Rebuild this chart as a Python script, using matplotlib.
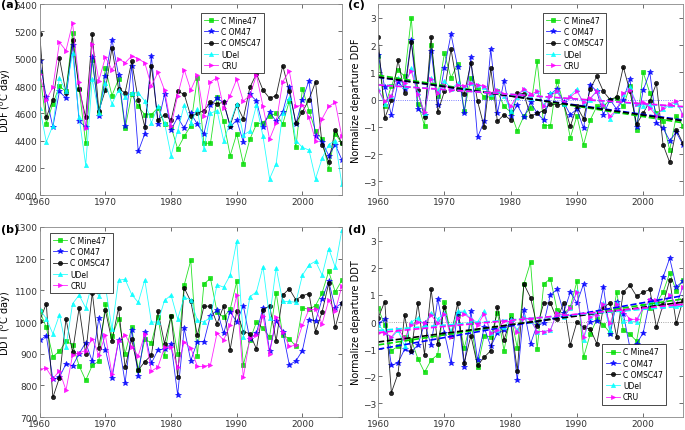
import numpy as np
import matplotlib.pyplot as plt

years = np.arange(1960, 2007)

# (a) DDF, degree days
ddf_mine = [4900, 4525, 4670, 4800, 4760, 5190, 4780, 4380, 4990, 4600,
            4930, 4730, 4850, 4490, 4740, 4650, 4590, 4590, 4640, 4520,
            4500, 4340, 4430, 4510, 4860, 4380, 4380, 4720, 4540, 4290,
            4450, 4230, 4410, 4520, 4530, 4580, 4600, 4520, 4690, 4350,
            4780, 4620, 4470, 4410, 4190, 4450, 4380]
ddf_om = [4980, 4720, 4500, 4760, 4710, 5100, 4540, 4500, 5010, 4580,
          4870, 5140, 4880, 4510, 4950, 4320, 4450, 5020, 4520, 4740,
          4480, 4570, 4490, 4600, 4520, 4450, 4660, 4710, 4680, 4500,
          4550, 4390, 4740, 4690, 4500, 4610, 4540, 4610, 4790, 4520,
          4700, 4840, 4430, 4390, 4290, 4370, 4260]
ddf_omsc = [5180, 4570, 4700, 5005, 4750, 5140, 4780, 4570, 5180, 4620,
            4770, 5080, 4780, 4750, 4980, 4700, 4500, 4950, 4550, 4590,
            4550, 4760, 4740, 4580, 4600, 4620, 4680, 4670, 4680, 4510,
            4660, 4560, 4790, 4890, 4770, 4710, 4730, 4950, 4760, 4530,
            4610, 4700, 4830, 4370, 4240, 4480, 4380]
ddf_udel = [4640, 4390, 4510, 4860, 4760, 5040, 4570, 4220, 4850, 4600,
            4820, 4670, 4770, 4720, 4750, 4750, 4690, 4530, 4650, 4530,
            4290, 4470, 4660, 4530, 4630, 4340, 4600, 4620, 4400, 4530,
            4670, 4440, 4470, 4660, 4430, 4120, 4230, 4600, 4710, 4400,
            4350, 4330, 4120, 4270, 4370, 4400, 4080]
ddf_cru = [4890, 4700, 4790, 5120, 5060, 5260, 4830, 4490, 5110, 4840,
           5010, 4920, 5000, 4970, 5020, 5000, 4970, 4800, 4900, 4770,
           4510, 4730, 4920, 4770, 4880, 4580, 4830, 4860, 4640, 4730,
           4850, 4690, 4730, 4880, 4650, 4410, 4530, 4830, 4910, 4650,
           4660, 4570, 4400, 4560, 4650, 4680, 4430]

# (b) DDT, degree days
ddt_mine = [1035, 983, 891, 908, 939, 929, 862, 816, 863, 876,
            1057, 955, 1009, 900, 983, 850, 945, 935, 1015, 893,
            1020, 900, 1117, 1195, 893, 1120, 1138, 1032, 1015, 1040,
            1128, 865, 943, 1000, 980, 953, 1093, 958, 948, 923,
            1045, 1040, 1052, 1092, 1160, 1095, 1132]
ddt_om = [942, 957, 819, 826, 868, 862, 900, 935, 876, 1012,
          913, 822, 942, 808, 976, 830, 968, 870, 912, 915,
          930, 770, 980, 878, 938, 938, 1020, 1037, 965, 1033,
          1000, 1052, 945, 965, 1045, 908, 1003, 970, 865, 877,
          910, 1007, 1003, 1073, 1128, 1045, 1060]
ddt_omsc = [1004, 1058, 762, 824, 1010, 905, 1045, 900, 1093, 919,
            1037, 940, 1045, 857, 945, 848, 875, 895, 1035, 932,
            1020, 828, 1108, 1065, 958, 1050, 1050, 995, 1050, 913,
            1035, 970, 963, 915, 1037, 1052, 940, 1085, 1105, 1070,
            1083, 1090, 970, 1032, 1122, 983, 1060]
ddt_udel = [1040, 1011, 963, 1023, 922, 1058, 1085, 1045, 1124, 1082,
            1113, 977, 1132, 1135, 1087, 1062, 1133, 1000, 1000, 1068,
            1085, 1010, 1078, 1070, 1005, 1000, 1015, 1118, 1110, 1148,
            1255, 952, 1080, 1095, 1175, 1013, 1172, 1065, 1065, 1062,
            1148, 1180, 1192, 1148, 1232, 1173, 1290]
ddt_cru = [851, 854, 821, 846, 785, 896, 903, 910, 948, 896,
           959, 835, 940, 960, 922, 893, 963, 845, 858, 920,
           920, 857, 937, 918, 860, 860, 865, 965, 943, 990,
           1085, 825, 950, 958, 1020, 900, 1017, 970, 923, 927,
           990, 1040, 1040, 995, 1068, 1035, 1113]

# (c) normalized departure DDF
ndf_mine = [1.6, -0.25, 0.5, 1.1, 0.85, 3.0, -0.15, -0.95, 2.0, 0.15,
            1.7, 0.8, 1.3, -0.4, 0.8, 0.4, 0.1, 0.1, 0.3, -0.25,
            -0.45, -1.15, -0.6, -0.3, 1.4, -0.95, -0.95, 0.7, -0.15, -1.4,
            -0.6, -1.65, -0.75, -0.25, -0.25, 0.0, 0.05, -0.25, 0.5, -1.1,
            1.0, 0.25, -0.5, -0.8, -1.85, -0.6, -0.95]
ndf_om = [1.65, 0.45, -0.57, 0.65, 0.4, 2.2, -0.35, -0.55, 1.8, -0.2,
          1.15, 2.4, 1.2, -0.5, 1.55, -1.38, -0.8, 1.85, -0.5, 0.7,
          -0.6, -0.2, -0.65, -0.1, -0.5, -0.75, 0.2, 0.4, -0.1, -0.55,
          -0.35, -1.05, 0.55, 0.3, -0.55, 0.0, -0.35, 0.0, 0.75, -1.0,
          0.35, 1.0, -0.85, -1.05, -1.5, -1.2, -1.65]
ndf_omsc = [2.3, -0.68, -0.03, 1.45, 0.25, 2.1, 0.35, -0.65, 2.3, -0.45,
            0.3, 1.85, 0.4, 0.2, 1.35, -0.05, -1.0, 1.15, -0.8, -0.55,
            -0.75, 0.25, 0.2, -0.6, -0.5, -0.4, -0.15, -0.2, -0.15, -0.98,
            -0.25, -0.7, 0.4, 0.85, 0.3, 0.0, 0.1, 1.2, 0.3, -0.9,
            -0.5, -0.05, 0.6, -1.65, -2.3, -1.1, -1.6]
ndf_udel = [0.4, -0.15, 0.15, 0.8, 0.5, 1.15, 0.25, -0.5, 0.8, 0.3,
            0.7, 0.4, 0.6, 0.45, 0.6, 0.55, 0.45, 0.2, 0.35, 0.15,
            -0.4, 0.1, 0.4, 0.05, 0.3, -0.2, 0.25, 0.3, -0.15, 0.15,
            0.4, -0.2, 0.0, 0.35, -0.15, -0.7, -0.4, 0.2, 0.45, -0.15,
            -0.25, -0.2, -0.55, -0.35, -0.2, -0.1, -0.55]
ndf_cru = [0.35, -0.05, 0.15, 0.75, 0.6, 1.05, 0.2, -0.45, 0.75, 0.25,
           0.55, 0.35, 0.55, 0.5, 0.6, 0.55, 0.5, 0.25, 0.35, 0.2,
           -0.25, 0.15, 0.4, 0.2, 0.3, -0.25, 0.15, 0.3, -0.1, 0.1,
           0.3, -0.1, 0.05, 0.3, -0.2, -0.6, -0.4, 0.25, 0.35, -0.15,
           -0.1, -0.3, -0.6, -0.3, -0.15, -0.05, -0.55]

# (d) normalized departure DDT
ndt_mine = [0.5, -0.1, -1.05, -0.9, -0.55, -0.65, -1.35, -1.85, -1.4, -1.2,
            0.75, -0.5, 0.25, -0.95, 0.0, -1.65, -0.5, -0.55, 0.35, -1.05,
            0.25, -0.95, 1.4, 2.2, -1.0, 1.4, 1.6, 0.45, 0.3, 0.55,
            1.5, -1.3, -0.45, 0.1, -0.1, -0.4, 1.1, -0.3, -0.45, -0.7,
            0.6, 0.5, 0.7, 1.1, 1.8, 1.15, 1.55]
ndt_om = [-0.05, 0.1, -1.6, -1.5, -1.0, -1.1, -0.85, -0.05, -0.85, 0.85,
          -0.4, -1.5, 0.35, -1.65, 0.4, -1.4, -0.2, -0.9, -0.4, -0.3,
          0.0, -2.15, 0.45, -0.8, -0.1, -0.05, 1.0, 1.2, 0.35, 1.1,
          0.7, 1.4, 0.0, 0.05, 1.3, -0.45, 0.75, 0.3, -0.95, -0.8,
          -0.4, 0.8, 0.75, 1.65, 2.35, 1.3, 1.5]
ndt_omsc = [0.15, 0.75, -2.6, -1.9, 0.25, -1.05, 0.7, -1.2, 1.2, -0.8,
            0.55, -0.5, 0.7, -1.5, -0.5, -1.6, -1.3, -1.05, 0.55, -0.65,
            0.1, -1.8, 1.4, 0.9, -0.15, 0.7, 0.7, 0.1, 0.7, -0.85,
            0.0, -0.2, -0.25, -0.8, 0.55, 0.7, -0.55, 1.1, 1.35, 0.95,
            1.1, 1.2, -0.2, 0.65, 1.55, -0.05, 0.8]
ndt_udel = [-0.1, -0.35, -0.6, -0.3, -0.9, 0.0, 0.15, -0.1, 0.35, 0.1,
            0.35, -0.35, 0.4, 0.4, 0.1, 0.0, 0.4, -0.4, -0.3, -0.2,
            0.1, -0.3, 0.2, 0.05, -0.35, -0.35, -0.3, 0.35, 0.2, 0.5,
            1.15, -0.65, 0.2, 0.3, 0.7, -0.3, 0.7, 0.05, 0.05, 0.0,
            0.55, 0.7, 0.75, 0.6, 1.0, 0.6, 1.3]
ndt_cru = [-0.4, -0.4, -0.55, -0.25, -0.6, -0.1, 0.0, -0.05, 0.25, -0.05,
           0.3, -0.55, 0.15, 0.3, 0.1, -0.1, 0.3, -0.4, -0.3, 0.05,
           0.0, -0.35, 0.15, 0.1, -0.35, -0.35, -0.3, 0.35, 0.25, 0.5,
           1.1, -0.55, 0.2, 0.25, 0.65, -0.05, 0.65, 0.4, 0.1, 0.1,
           0.5, 0.8, 0.8, 0.55, 1.0, 0.65, 1.3]

labels = ['C Mine47', 'C OM47', 'C OMSC47', 'UDel', 'CRU']
colors = ['#00dd00', '#0000ff', '#000000', '#00ffff', '#ff00ff']
markers = ['s', '*', 'o', '^', '>']
msizes = [3.0, 4.0, 3.0, 3.0, 3.0]

plt.rcParams['font.family'] = 'DejaVu Sans'
fig = plt.figure(figsize=(6.85, 4.31), dpi=100)

# axes positions in figure fractions
ax_a = fig.add_axes([0.058, 0.545, 0.441, 0.443])
ax_c = fig.add_axes([0.552, 0.545, 0.445, 0.443])
ax_b = fig.add_axes([0.058, 0.030, 0.441, 0.441])
ax_d = fig.add_axes([0.552, 0.030, 0.445, 0.441])


def draw_series(ax, series, trend=False):
    for s, lab, c, m, ms in zip(series, labels, colors, markers, msizes):
        ax.plot(years, s, color=c, lw=0.6, marker=m, ms=ms, mec=c, mfc=c,
                mew=0.5, label=lab, alpha=0.85)
    if trend:
        for s, c in zip(series, colors):
            p = np.polyfit(years, s, 1)
            ax.plot(years, np.polyval(p, years), color=c, lw=1.2, ls='--')


def style(ax, ylabel, xlab):
    ax.set_xlim(1960, 2006)
    ax.set_xticks([1960, 1970, 1980, 1990, 2000])
    ax.tick_params(direction='in', top=True, right=True, labelsize=6.5,
                   length=3, width=0.5, colors='#333333', pad=1.5)
    for sp in ax.spines.values():
        sp.set_linewidth(0.6)
        sp.set_color('#888888')
    ax.set_ylabel(ylabel, fontsize=7)
    ax.yaxis.set_label_coords(xlab, 0.5)


draw_series(ax_a, [ddf_mine, ddf_om, ddf_omsc, ddf_udel, ddf_cru])
style(ax_a, r'DDF ($^{\rm o}$C day)', -0.088)
ax_a.set_ylim(4000, 5400)
ax_a.set_yticks(np.arange(4000, 5401, 200))

draw_series(ax_b, [ddt_mine, ddt_om, ddt_omsc, ddt_udel, ddt_cru])
style(ax_b, r'DDT ($^{\rm o}$C day)', -0.088)
ax_b.set_ylim(700, 1300)
ax_b.set_yticks(np.arange(700, 1301, 100))

ax_c.axhline(0, color='#5555ff', lw=0.6, ls=':')
draw_series(ax_c, [ndf_mine, ndf_om, ndf_omsc, ndf_udel, ndf_cru], trend=True)
style(ax_c, 'Normalize departure DDF', -0.055)
ax_c.set_ylim(-3.5, 3.5)
ax_c.set_yticks(np.arange(-3, 4, 1))

ax_d.axhline(0, color='#888888', lw=0.6, ls=':')
draw_series(ax_d, [ndt_mine, ndt_om, ndt_omsc, ndt_udel, ndt_cru], trend=True)
style(ax_d, 'Normalize departure DDT', -0.055)
ax_d.set_ylim(-3.5, 3.5)
ax_d.set_yticks(np.arange(-3, 4, 1))

leg_kw = dict(fontsize=5.5, frameon=True, fancybox=False, edgecolor='black',
              framealpha=1, handlelength=1.9, labelspacing=0.3,
              borderpad=0.4, handletextpad=0.4)


def add_legend(ax, loc, anchor):
    h, l = ax.get_legend_handles_labels()
    leg = ax.legend(h[:5], l[:5], loc=loc, bbox_to_anchor=anchor, **leg_kw)
    leg.get_frame().set_linewidth(0.5)


add_legend(ax_a, 'upper left', (0.52, 0.975))
add_legend(ax_b, 'upper left', (0.02, 0.99))
add_legend(ax_c, 'upper left', (0.528, 0.975))
add_legend(ax_d, 'lower right', (0.957, 0.046))

for lab, x, y in [('(a)', 0.002, 0.999), ('(b)', 0.002, 0.478),
                  ('(c)', 0.508, 0.999), ('(d)', 0.508, 0.478)]:
    fig.text(x, y, lab, fontsize=8, fontweight='bold', va='top', ha='left')

fig.savefig('out.png', dpi=100)
